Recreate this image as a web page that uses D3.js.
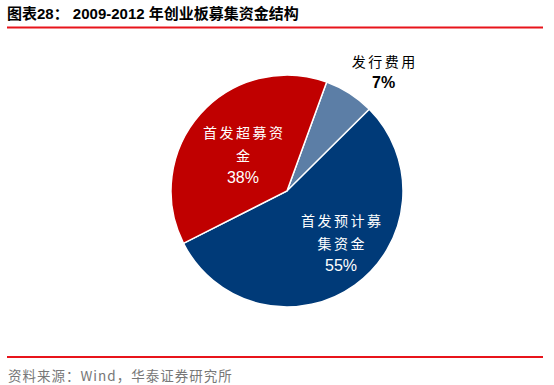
<!DOCTYPE html>
<html>
<head>
<meta charset="utf-8">
<script src="https://cdn.jsdelivr.net/npm/d3@7"></script>
<style>
  body { margin: 0; background: #fff; }
</style>
</head>
<body>
<div id="chart"></div>
<script>
// Data
const categories = ["发行费用", "首发预计募集资金", "首发超募资金"];
const values = [7, 55, 38];
const labelLines = [["发行费用"], ["首发预计募", "集资金"], ["首发超募资", "金"]];
const colors = ["#5C7EA6", "#003A78", "#C00000"];

const width = 554, height = 385;
const cx = 287, cy = 191, radius = 116;

// label placement (radius factor, angle shift in degrees) per slice
const labelR = [1.32, 0.65, 0.49];
const labelShift = [6.5, -10, -2.5];

const svg = d3.select("#chart")
  .append("svg")
    .attr("width", width)
    .attr("height", height);

// title
svg.append("text")
  .attr("x", 7)
  .attr("y", 19)
  .style("font-size", "15px")
  .style("font-weight", "bold")
  .style("font-family", "'Liberation Sans', 'Noto Sans CJK SC', sans-serif")
  .style("fill", "#000")
  .text("图表28：  2009-2012 年创业板募集资金结构");

// red rules
svg.append("line")
  .attr("x1", 7).attr("x2", 543)
  .attr("y1", 27.5).attr("y2", 27.5)
  .attr("stroke", "#E8141B").attr("stroke-width", 2);
svg.append("line")
  .attr("x1", 7).attr("x2", 543)
  .attr("y1", 357).attr("y2", 357)
  .attr("stroke", "#E8141B").attr("stroke-width", 2);

// source
svg.append("text")
  .attr("x", 8)
  .attr("y", 381)
  .style("font-size", "13.5px")
  .style("letter-spacing", "1px")
  .style("font-family", "'Noto Sans CJK SC', sans-serif")
  .style("fill", "#777")
  .text("资料来源：Wind，华泰证券研究所");

// pie
const pie = d3.pie()
  .sort(null)
  .value(d => d)
  .startAngle(20 * Math.PI / 180)
  .endAngle(20 * Math.PI / 180 + 2 * Math.PI);

const arc = d3.arc().innerRadius(0).outerRadius(radius);
const arcs = pie(values);

const g = svg.append("g")
  .attr("transform", `translate(${cx},${cy})`);

g.selectAll("path")
  .data(arcs)
  .join("path")
    .attr("d", arc)
    .attr("fill", (d, i) => colors[i])
    .attr("stroke", "#fff")
    .attr("stroke-width", 1.5);

const spacing = 2.5;
arcs.forEach((d, i) => {
  const outside = i === 0;
  const a = (d.startAngle + d.endAngle) / 2 + labelShift[i] * Math.PI / 180;
  const r = radius * labelR[i];
  const lx = r * Math.sin(a), ly = -r * Math.cos(a);
  const lines = labelLines[i];
  const fill = outside ? "#000" : "#fff";
  const lineH = 23, pctH = 21;
  const blockH = (lines.length - 1) * lineH + pctH;
  const top = ly - blockH / 2;

  const t = g.append("g");
  lines.forEach((s, k) => {
    t.append("text")
      .attr("x", lx + spacing / 2)
      .attr("y", top + k * lineH)
      .attr("text-anchor", "middle")
      .attr("dy", "0.35em")
      .style("font-size", "14px")
      .style("letter-spacing", spacing + "px")
      .style("font-family", "'Noto Sans CJK SC', serif")
      .style("fill", fill)
      .text(s);
  });
  t.append("text")
    .attr("x", lx)
    .attr("y", top + blockH)
    .attr("text-anchor", "middle")
    .attr("dy", "0.35em")
    .style("font-size", "16px")
    .style("font-weight", outside ? "bold" : "normal")
    .style("font-family", "'Liberation Sans', Arial, sans-serif")
    .style("fill", fill)
    .text(values[i] + "%");
});
</script>
</body>
</html>
